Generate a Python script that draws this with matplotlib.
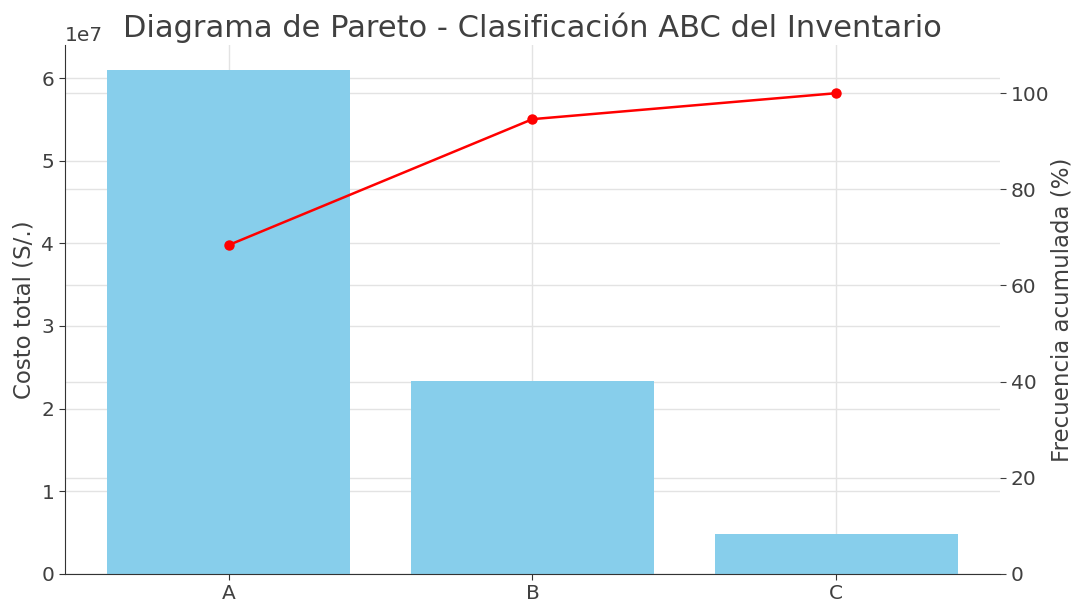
import matplotlib
matplotlib.use("Agg")
import matplotlib.pyplot as plt

categories = ["A", "B", "C"]
costs = [6.1e7, 2.33e7, 0.48e7]
cum_pct = [68.4, 94.6, 100.0]

plt.rcParams['font.family'] = ['DejaVu Sans']
text_color = '#404040'
grid_color = '#e3e3e3'

fig, ax = plt.subplots(figsize=(10.79, 6.02), dpi=100)
fig.subplots_adjust(left=0.06, right=0.927, top=0.925, bottom=0.047)

# background axes for the right-axis ticks and grid (behind the bars)
ax_bg = ax.twinx()
ax_bg.set_zorder(ax.get_zorder() - 1)
ax.patch.set_visible(False)
ax_bg.set_ylim(0, 110)
ax_bg.grid(True, axis='y', color=grid_color, linewidth=1)
ax_bg.set_ylabel("Frecuencia acumulada (%)", fontsize=16.5, color=text_color, labelpad=1)
ax_bg.tick_params(axis='y', labelsize=14.5, colors=text_color, length=4)
for s in ['top', 'right', 'left', 'bottom']:
    ax_bg.spines[s].set_visible(False)

ax.bar(categories, costs, width=0.8, color='skyblue', zorder=2)
ax.set_ylabel("Costo total (S/.)", fontsize=16.5, color=text_color)
ax.set_ylim(0, 6.4e7)
ax.grid(True, color=grid_color, linewidth=1, zorder=0)
ax.set_axisbelow(True)
for s in ['top', 'right']:
    ax.spines[s].set_visible(False)
for s in ['left', 'bottom']:
    ax.spines[s].set_color('#333333')
ax.tick_params(axis='both', labelsize=14.5, colors=text_color, length=4)
ax.tick_params(axis='both', colors='#333333', labelcolor=text_color)
ax.yaxis.get_offset_text().set_fontsize(14.5)
ax.yaxis.get_offset_text().set_color(text_color)

# top axes for the cumulative line
ax2 = ax.twinx()
ax2.plot(categories, cum_pct, color='red', marker='o', markersize=6.5, linewidth=1.8)
ax2.set_ylim(0, 110)
ax2.set_yticks([])
ax2.patch.set_visible(False)
for s in ['top', 'right', 'left', 'bottom']:
    ax2.spines[s].set_visible(False)

ax.set_title("Diagrama de Pareto - Clasificación ABC del Inventario", fontsize=22, color=text_color)

fig.savefig("out.png", dpi=100)
